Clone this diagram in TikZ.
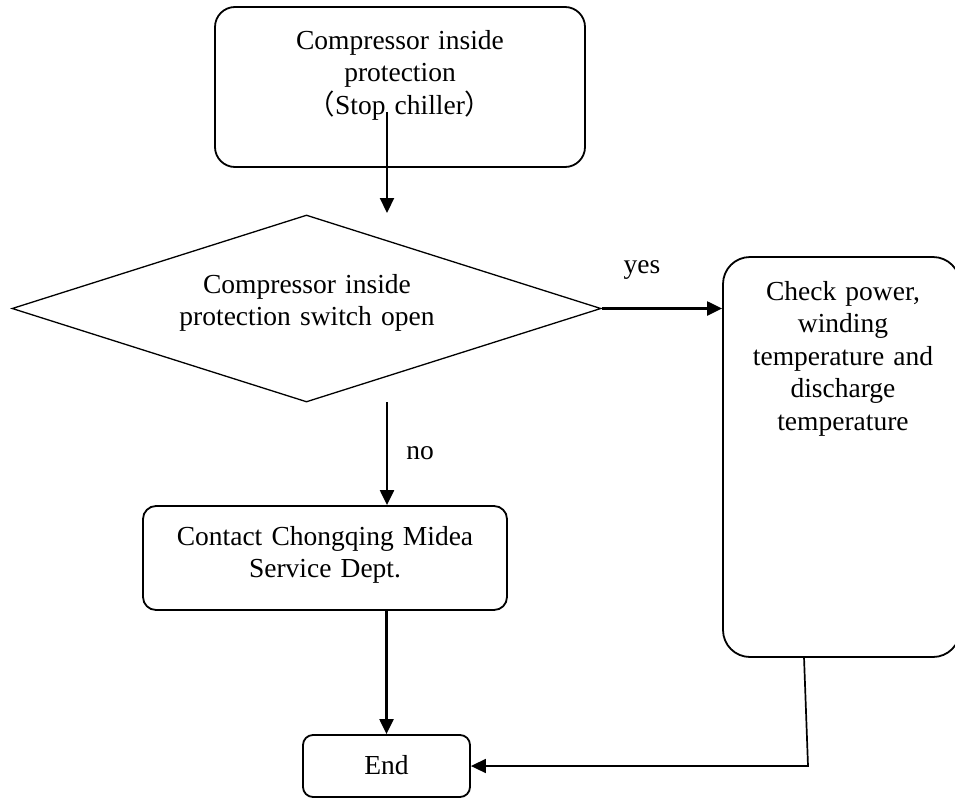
\documentclass[tikz,border=0pt]{standalone}
\usepackage{fontspec}
\setmainfont{Liberation Serif}
\newfontfamily\cjk{Noto Sans CJK SC}
\usetikzlibrary{shapes.geometric,arrows.meta,calc}
\begin{document}
\begin{tikzpicture}[x=1pt,y=-1pt,
  box/.style={draw,line width=1.8pt,rounded corners=#1,inner sep=0pt},
  txt/.style={inner sep=0pt,text width=400pt,align=center,anchor=base,
    font=\fontsize{27.5}{32.5}\selectfont},
  arr/.style={line width=2.2pt,-{Triangle[length=15pt,width=14pt]}}]
\useasboundingbox (0,0) rectangle (955,798);
% shapes
\node[box=20pt,minimum width=370pt,minimum height=160pt] (start) at (400,87) {};
\node[draw,diamond,line width=1.3pt,inner sep=0pt,minimum width=589pt,minimum height=187pt] (dec) at (306.5,308.5) {};
\node[box=27pt,minimum width=237pt,minimum height=400pt] (check) at (841.5,457) {};
\node[box=13pt,minimum width=364pt,minimum height=104pt] (contact) at (325,558) {};
\node[box=10pt,minimum width=167pt,minimum height=62pt] (end) at (386.5,766) {};
% texts
\node[txt] (starttext) at (400,49) {Compressor inside\\protection\\{\cjk （}Stop chiller{\cjk ）}};
\node[txt] (dectext) at (307,293) {Compressor inside\\protection switch open};
\node[txt] (checktext) at (843,300) {Check power,\\winding\\temperature and\\discharge\\temperature};
\node[txt] (contacttext) at (325,545) {Contact Chongqing Midea\\Service Dept.};
\node[txt] (endtext) at (386.5,774) {End};
\node[txt] (yes) at (642,273) {yes};
\node[txt] (no) at (420,459) {no};
% connectors
\coordinate (a1s) at (387,112);
\coordinate (a1e) at (387,213);
\draw[arr] (a1s) -- (a1e);
\draw[arr] (dec.east) -- (dec.east -| check.west);
\coordinate (a3s) at (387,402);
\draw[arr] (a3s) -- (a3s |- contact.north);
\draw[arr] (end.north |- contact.south) -- (end.north);
\coordinate (c5a) at (804,657);
\coordinate (c5b) at (808,766);
\draw[arr,line width=1.7pt] (c5a) -- (c5b) -- (end.east);
\end{tikzpicture}
\end{document}
